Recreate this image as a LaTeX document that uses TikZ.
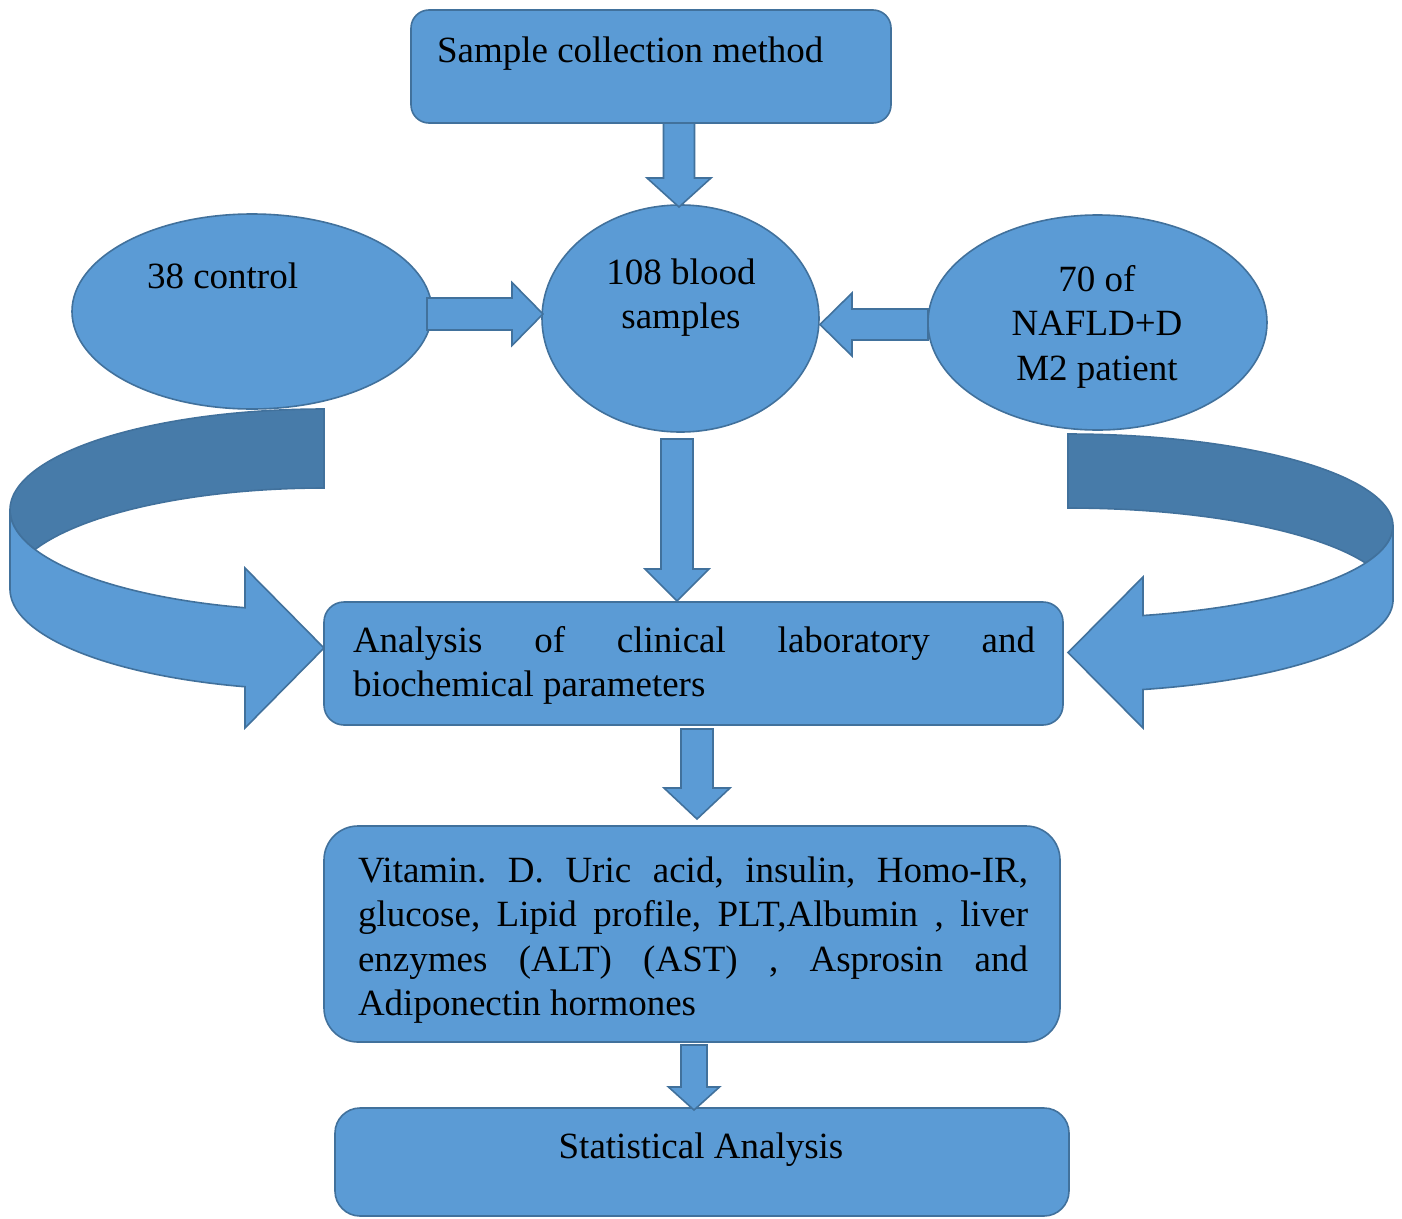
\documentclass[tikz,border=0pt]{standalone}
\usepackage{fontspec}
\setmainfont{Liberation Serif}
\usetikzlibrary{calc,shapes.geometric}
\definecolor{boxfill}{RGB}{91,155,213}
\definecolor{boxline}{RGB}{65,113,156}
\definecolor{bandfill}{RGB}{71,123,169}
\frenchspacing
\tikzset{
  shapebase/.style={fill=boxfill, draw=boxline, line width=1.6pt, inner sep=0pt, outer sep=0pt},
  rbox/.style={shapebase, rectangle},
  oval/.style={shapebase, ellipse},
  barrow/.style={fill=boxfill, draw=boxline, line width=1.6pt, line join=miter},
  backband/.style={fill=bandfill, draw=boxline, line width=1.6pt, line join=miter},
  txt/.style={inner sep=0pt, outer sep=0pt, font=\fontsize{37}{44.5}\selectfont, text=black}
}
% vertical block arrow: start, tip, shaft half width, head half width, head length
\newcommand\vblock[5]{%
  \draw[barrow] let \p1=(#1), \p2=(#2) in
    ({\x1-#3pt},\y1) -- ({\x1-#3pt},{\y2+#5pt}) -- ({\x1-#4pt},{\y2+#5pt}) -- (\x1,\y2)
    -- ({\x1+#4pt},{\y2+#5pt}) -- ({\x1+#3pt},{\y2+#5pt}) -- ({\x1+#3pt},\y1) -- cycle;}
% horizontal block arrow: start, tip, shaft half width, head half width, signed head length
\newcommand\hblock[5]{%
  \draw[barrow] let \p1=(#1), \p2=(#2) in
    (\x1,{\y2+#3pt}) -- ({\x2-#5pt},{\y2+#3pt}) -- ({\x2-#5pt},{\y2+#4pt}) -- (\x2,\y2)
    -- ({\x2-#5pt},{\y2-#4pt}) -- ({\x2-#5pt},{\y2-#3pt}) -- (\x1,{\y2-#3pt}) -- cycle;}
\begin{document}
\begin{tikzpicture}[x=1pt,y=-1pt]
\fill[white] (0,0) rectangle (1402,1218);
\useasboundingbox (0,0) rectangle (1402,1218);

% ---- curved arrows (left) ----
\draw[backband] plot[domain=270:157, samples=90] ({324+314*cos(\x)},{510+101*sin(\x)})
  -- plot[domain=203:270, samples=60] ({324+314*cos(\x)},{589+101*sin(\x)}) -- cycle;
\draw[barrow] (10,510) -- plot[domain=180:104.57, samples=70] ({324+314*cos(\x)},{589+101*sin(\x)})
  -- (245,728) -- (324,648) -- (245,568)
  -- plot[domain=104.57:180, samples=70] ({324+314*cos(\x)},{510+101*sin(\x)}) -- cycle;

% ---- curved arrows (right) ----
\draw[backband] plot[domain=-90:23.97, samples=90] ({1068+325*cos(\x)},{526+92*sin(\x)})
  -- plot[domain=-23.97:-90, samples=60] ({1068+325*cos(\x)},{600+92*sin(\x)}) -- cycle;
\draw[barrow] (1393,526) -- plot[domain=0:76.66, samples=70] ({1068+325*cos(\x)},{600+92*sin(\x)})
  -- (1143,728) -- (1068,652.5) -- (1143,577)
  -- plot[domain=76.66:0, samples=70] ({1068+325*cos(\x)},{526+92*sin(\x)}) -- cycle;

% ---- nodes ----
\node[rbox, rounded corners=18pt, minimum width=480pt, minimum height=113pt] (top) at (651,66.5) {};
\node[oval, minimum width=360pt, minimum height=195pt] (ctrl) at (252,311.5) {};
\node[oval, minimum width=277pt, minimum height=227pt] (blood) at (680.5,318.5) {};
\node[oval, minimum width=339pt, minimum height=215pt] (nafld) at (1097.5,322.5) {};
\node[rbox, rounded corners=20pt, minimum width=739pt, minimum height=123pt] (ana) at (693.5,663.5) {};
\node[rbox, rounded corners=34pt, minimum width=736pt, minimum height=216pt] (vit) at (692,934) {};
\node[rbox, rounded corners=25pt, minimum width=734pt, minimum height=108pt] (stat) at (702,1162) {};

% ---- block arrows ----
\vblock{$(top.south)+(28,0)$}{$(blood.north)+(-1.5,2)$}{15.5}{32}{29}
\hblock{$(ctrl.east)+(-5,2.5)$}{$(blood.west)+(1,-4.5)$}{16}{31.5}{31}
\hblock{$(nafld.west)+(0,2)$}{$(blood.east)+(1,6)$}{15.5}{31.5}{-32}
\vblock{$(blood.south)+(-3.5,7)$}{$(ana.north)+(-16.5,-1)$}{16}{32}{32}
\vblock{$(ana.south)+(3.5,4)$}{$(vit.north)+(5,-7)$}{16}{33}{31}
\vblock{$(vit.south)+(2,3)$}{$(stat.north)+(-8,2)$}{13}{25.5}{23}

% ---- texts ----
\node[txt, anchor=base west] (ttop) at (437,62) {Sample collection method};
\node[txt, anchor=base west] (tctrl) at (147,288) {38 control};
\node[txt, anchor=base] (tblood1) at (681,284) {108 blood};
\node[txt, anchor=base] (tblood2) at (681,328.5) {samples};
\node[txt, anchor=base] (tnafld1) at (1097,291) {70 of};
\node[txt, anchor=base] (tnafld2) at (1097,335.5) {NAFLD+D};
\node[txt, anchor=base] (tnafld3) at (1097,380) {M2 patient};
\node[txt, anchor=base west] (tana) at (353,652) {\parbox[t]{682pt}{\frenchspacing\hyphenpenalty=10000\spaceskip=0.25em plus 20em minus 0.05em
  Analysis of clinical laboratory and\linebreak biochemical parameters}};
\node[txt, anchor=base west] (tvit) at (358,882) {\parbox[t]{670pt}{\frenchspacing\hyphenpenalty=10000\spaceskip=0.25em plus 20em minus 0.05em
  Vitamin. D. Uric acid, insulin, Homo-IR,\linebreak glucose, Lipid profile, PLT,Albumin , liver\linebreak enzymes (ALT) (AST) , Asprosin and\linebreak Adiponectin hormones}};
\node[txt, anchor=base] (tstat) at (701,1158) {Statistical Analysis};
\end{tikzpicture}
\end{document}
